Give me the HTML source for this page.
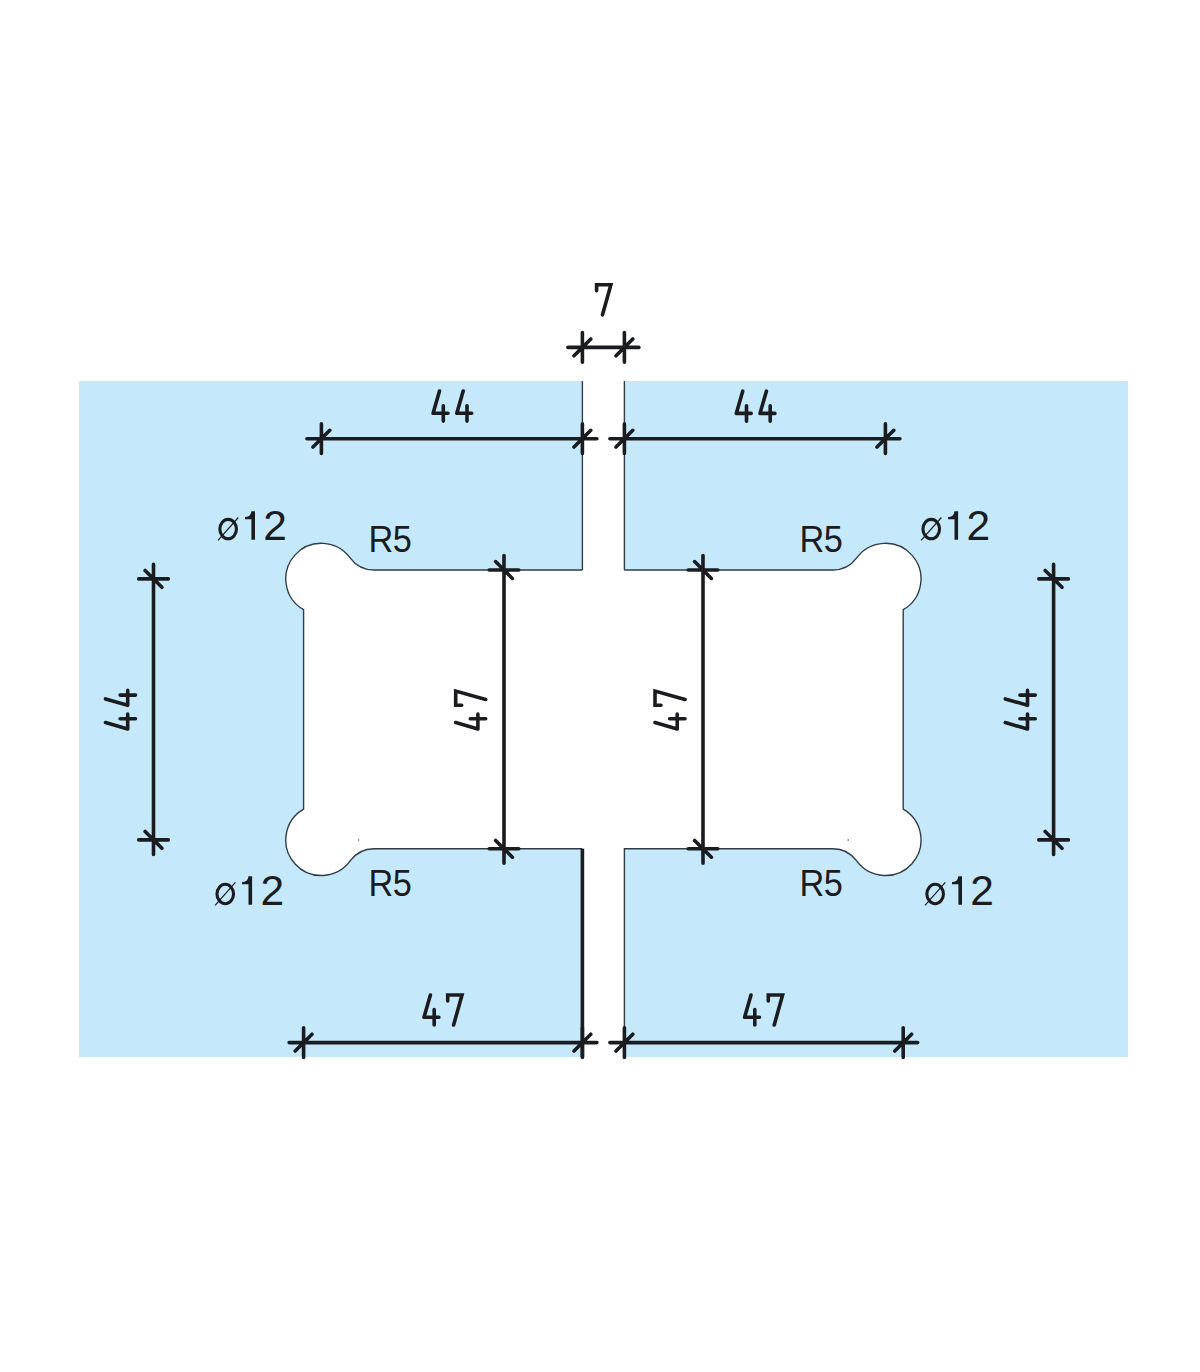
<!DOCTYPE html>
<html><head><meta charset="utf-8"><style>
html,body{margin:0;padding:0;background:#fff;}
svg{display:block;}
text{font-family:"Liberation Sans",sans-serif;fill:#1b1c1f;}
</style></head><body>
<svg width="1200" height="1372" viewBox="0 0 1200 1372">
<rect x="0" y="0" width="1200" height="1372" fill="#fff"/>
<rect x="79" y="381" width="1049" height="676" fill="#c5e9fb"/>
<rect x="582.4" y="379" width="42.0" height="680" fill="#fff"/>
<path d="M582.40 570.00 L374.05 570.00 A29.66 29.66 0 0 1 350.12 557.87 A35.6 35.6 0 1 0 303.60 609.73 L303.60 809.07 A35.6 35.6 0 1 0 350.12 860.93 A29.66 29.66 0 0 1 374.05 848.80 L582.40 848.80 L603.4 848.8 L603.4 570.0 Z" fill="#fff"/>
<path d="M624.40 570.00 L832.75 570.00 A29.66 29.66 0 0 0 856.68 557.87 A35.6 35.6 0 1 1 903.20 609.73 L903.20 809.07 A35.6 35.6 0 1 1 856.68 860.93 A29.66 29.66 0 0 0 832.75 848.80 L624.40 848.80 L603.4 848.8 L603.4 570.0 Z" fill="#fff"/>
<g fill="none" stroke="#303c46" stroke-width="1.4">
<path d="M582.4 381 L582.4 570.0 M582.40 570.00 L374.05 570.00 A29.66 29.66 0 0 1 350.12 557.87 A35.6 35.6 0 1 0 303.60 609.73 L303.60 809.07 A35.6 35.6 0 1 0 350.12 860.93 A29.66 29.66 0 0 1 374.05 848.80 L582.40 848.80"/>
<path d="M624.4 381 L624.4 570.0 M624.40 570.00 L832.75 570.00 A29.66 29.66 0 0 0 856.68 557.87 A35.6 35.6 0 1 1 903.20 609.73 L903.20 809.07 A35.6 35.6 0 1 1 856.68 860.93 A29.66 29.66 0 0 0 832.75 848.80 L624.40 848.80 L624.4 1057"/>
</g>
<g fill="none" stroke="#1b1c1f" stroke-width="3.6" stroke-linecap="round" stroke-linejoin="round">
<path d="M582.4 848.8 L582.4 1057" stroke-linecap="butt"/>
<path d="M567.90 347.40 L638.90 347.40 M582.40 332.60 L582.40 362.20 M574.00 355.80 L590.80 339.00 M624.40 332.60 L624.40 362.20 M616.00 355.80 L632.80 339.00 M306.90 438.70 L596.90 438.70 M321.40 423.90 L321.40 453.50 M313.00 447.10 L329.80 430.30 M582.40 423.90 L582.40 453.50 M574.00 447.10 L590.80 430.30 M609.90 438.70 L899.90 438.70 M624.40 423.90 L624.40 453.50 M616.00 447.10 L632.80 430.30 M885.40 423.90 L885.40 453.50 M877.00 447.10 L893.80 430.30 M289.10 1042.60 L596.90 1042.60 M303.60 1027.80 L303.60 1057.40 M295.20 1051.00 L312.00 1034.20 M582.40 1027.80 L582.40 1057.40 M574.00 1051.00 L590.80 1034.20 M609.90 1042.60 L917.70 1042.60 M624.40 1027.80 L624.40 1057.40 M616.00 1051.00 L632.80 1034.20 M903.20 1027.80 L903.20 1057.40 M894.80 1051.00 L911.60 1034.20 M153.50 564.40 L153.50 854.40 M138.70 578.90 L168.30 578.90 M145.10 570.50 L161.90 587.30 M138.70 839.90 L168.30 839.90 M145.10 831.50 L161.90 848.30 M504.00 555.50 L504.00 863.30 M489.20 570.00 L518.80 570.00 M495.60 561.60 L512.40 578.40 M489.20 848.80 L518.80 848.80 M495.60 840.40 L512.40 857.20 M703.00 555.50 L703.00 863.30 M688.20 570.00 L717.80 570.00 M694.60 561.60 L711.40 578.40 M688.20 848.80 L717.80 848.80 M694.60 840.40 L711.40 857.20 M1053.60 564.40 L1053.60 854.40 M1038.80 578.90 L1068.40 578.90 M1045.20 570.50 L1062.00 587.30 M1038.80 839.90 L1068.40 839.90 M1045.20 831.50 L1062.00 848.30 "/>
<path d="M439.50 391.10 L433.10 413.30 L448.00 413.30 M443.30 405.70 L443.30 421.10 M463.20 391.10 L456.80 413.30 L471.70 413.30 M467.00 405.70 L467.00 421.10 M742.70 391.20 L736.30 413.40 L751.20 413.40 M746.50 405.80 L746.50 421.20 M766.40 391.20 L760.00 413.40 L774.90 413.40 M770.20 405.80 L770.20 421.20 M430.40 995.00 L424.00 1017.20 L438.90 1017.20 M434.20 1009.60 L434.20 1025.00 M751.00 995.00 L744.60 1017.20 L759.50 1017.20 M754.80 1009.60 L754.80 1025.00 M105.50 722.60 L127.70 729.00 L127.70 714.10 M120.10 718.80 L135.50 718.80 M105.50 698.90 L127.70 705.30 L127.70 690.40 M120.10 695.10 L135.50 695.10 M455.70 722.60 L477.90 729.00 L477.90 714.10 M470.30 718.80 L485.70 718.80 M655.00 722.60 L677.20 729.00 L677.20 714.10 M669.60 718.80 L685.00 718.80 M1005.30 722.60 L1027.50 729.00 L1027.50 714.10 M1019.90 718.80 L1035.30 718.80 M1005.30 698.90 L1027.50 705.30 L1027.50 690.40 M1019.90 695.10 L1035.30 695.10 "/>
<path d="M596.60 290.80 L596.60 284.80 L610.90 284.80 L602.50 314.80 M447.70 1001.00 L447.70 995.00 L462.00 995.00 L453.60 1025.00 M768.30 1001.00 L768.30 995.00 L782.60 995.00 L774.20 1025.00 M461.70 705.30 L455.70 705.30 L455.70 691.00 L485.70 699.40 M661.00 705.30 L655.00 705.30 L655.00 691.00 L685.00 699.40 " stroke-linejoin="miter" stroke-miterlimit="3"/>
</g>
<text x="263.30" y="539.80" font-size="42.5">2</text><text x="966.40" y="539.80" font-size="42.5">2</text><text x="260.40" y="904.75" font-size="42.5">2</text><text x="970.30" y="904.75" font-size="42.5">2</text><text transform="translate(371.10 552.00) scale(0.967 1.04)" x="-2.6" y="0" font-size="35.5" letter-spacing="-0.6">R5</text><text transform="translate(802.00 552.00) scale(0.967 1.04)" x="-2.6" y="0" font-size="35.5" letter-spacing="-0.6">R5</text><text transform="translate(371.10 895.80) scale(0.967 1.04)" x="-2.6" y="0" font-size="35.5" letter-spacing="-0.6">R5</text><text transform="translate(802.00 895.80) scale(0.967 1.04)" x="-2.6" y="0" font-size="35.5" letter-spacing="-0.6">R5</text><g fill="none" stroke="#1b1c1f" stroke-width="3.1"><ellipse cx="228.15" cy="529.05" rx="8.3" ry="9.7"/><ellipse cx="931.25" cy="529.05" rx="8.3" ry="9.7"/><ellipse cx="225.25" cy="894.00" rx="8.3" ry="9.7"/><ellipse cx="935.15" cy="894.00" rx="8.3" ry="9.7"/></g><path d="M218.00 540.40 L238.30 517.50 M921.10 540.40 L941.40 517.50 M215.10 905.35 L235.40 882.45 M925.00 905.35 L945.30 882.45 " fill="none" stroke="#1b1c1f" stroke-width="1.2"/><path d="M251.40 511.20 L255.00 511.20 L255.00 539.80 L251.40 539.80 L251.40 519.20 Q248.20 519.20 245.00 519.20 L245.00 517.10 Q250.60 517.00 251.40 511.20 Z M954.50 511.20 L958.10 511.20 L958.10 539.80 L954.50 539.80 L954.50 519.20 Q951.30 519.20 948.10 519.20 L948.10 517.10 Q953.70 517.00 954.50 511.20 Z M248.50 876.15 L252.10 876.15 L252.10 904.75 L248.50 904.75 L248.50 884.15 Q245.30 884.15 242.10 884.15 L242.10 882.05 Q247.70 881.95 248.50 876.15 Z M958.40 876.15 L962.00 876.15 L962.00 904.75 L958.40 904.75 L958.40 884.15 Q955.20 884.15 952.00 884.15 L952.00 882.05 Q957.60 881.95 958.40 876.15 Z " fill="#1b1c1f"/>
<circle cx="358.6" cy="840" r="0.8" fill="#555"/><circle cx="848.2" cy="840" r="0.8" fill="#555"/>
</svg>
</body></html>
